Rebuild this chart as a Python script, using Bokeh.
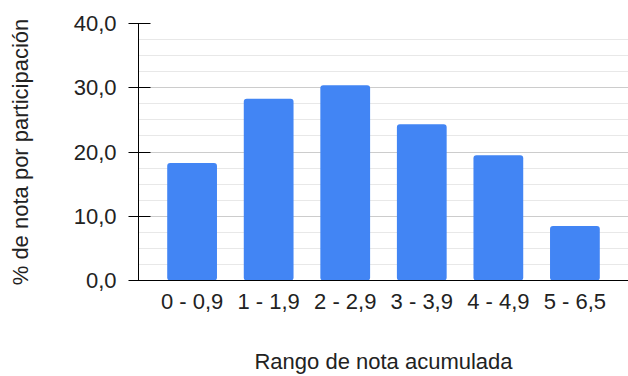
from bokeh.plotting import figure
from bokeh.models import FactorRange, Range1d, FixedTicker, ColumnDataSource
from bokeh.embed import file_html
from bokeh.resources import INLINE

categories = ["0 - 0,9", "1 - 1,9", "2 - 2,9", "3 - 3,9", "4 - 4,9", "5 - 6,5"]
values = [18.3, 28.3, 30.4, 24.3, 19.5, 8.5]
y_ticks = [0, 10, 20, 30, 40]
y_tick_labels = ["0,0", "10,0", "20,0", "30,0", "40,0"]
y_minor = [2.5, 5, 7.5, 12.5, 15, 17.5, 22.5, 25, 27.5, 32.5, 35, 37.5]

FONT = "Liberation Sans"
TXT = "#222222"
FS = "22px"

src = ColumnDataSource(dict(cat=categories, val=values))

p = figure(
    width=628, height=376,
    x_range=FactorRange(*categories, range_padding=0.2, range_padding_units="absolute"),
    y_range=Range1d(0, 40),
    output_backend="svg", toolbar_location=None,
    min_border_left=138, min_border_right=0, min_border_top=23, min_border_bottom=20,
)
p.outline_line_color = None

p.vbar(x="cat", top="val", width=0.65, source=src, color="#4285F4", line_color=None,
       border_radius=3)

# y axis
p.yaxis.ticker = FixedTicker(ticks=y_ticks, minor_ticks=y_minor)
p.yaxis.major_label_overrides = {t: l for t, l in zip(y_ticks, y_tick_labels)}
p.yaxis.axis_line_color = "#000000"
p.yaxis.major_tick_line_color = "#000000"
p.yaxis.major_tick_out = 10
p.yaxis.major_tick_in = 12
p.yaxis.minor_tick_line_color = None
p.yaxis.major_label_standoff = 12
p.yaxis.major_label_text_font = FONT
p.yaxis.major_label_text_font_size = FS
p.yaxis.major_label_text_color = TXT
p.yaxis.axis_label = "% de nota por participación"
p.yaxis.axis_label_text_font = FONT
p.yaxis.axis_label_text_font_size = FS
p.yaxis.axis_label_text_font_style = "normal"
p.yaxis.axis_label_text_color = TXT
p.yaxis.axis_label_standoff = 38

# x axis
p.xaxis.axis_line_color = "#000000"
p.xaxis.major_tick_line_color = None
p.xaxis.minor_tick_line_color = None
p.xaxis.major_label_standoff = 2
p.xaxis.major_label_text_font = FONT
p.xaxis.major_label_text_font_size = FS
p.xaxis.major_label_text_color = TXT
p.xaxis.axis_label = "Rango de nota acumulada"
p.xaxis.axis_label_text_font = FONT
p.xaxis.axis_label_text_font_size = FS
p.xaxis.axis_label_text_font_style = "normal"
p.xaxis.axis_label_text_color = TXT
p.xaxis.axis_label_standoff = 32

# grids
p.xgrid.grid_line_color = None
p.ygrid.grid_line_color = "#cccccc"
p.ygrid.minor_grid_line_color = "#e8e8e8"
p.ygrid.level = "underlay"

open("out.html", "w").write(file_html(p, INLINE))
